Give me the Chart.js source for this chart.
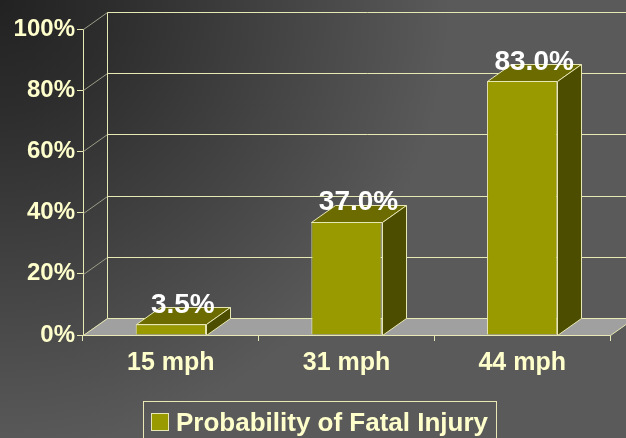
<!DOCTYPE html>
<html>
<head>
<meta charset="utf-8">
<style>
  html, body { margin: 0; padding: 0; background: #3a3a3a; }
  #wrap { width: 626px; height: 438px; position: relative; }
</style>
<script src="https://cdn.jsdelivr.net/npm/chart.js@4.4.1/dist/chart.umd.min.js"></script>
</head>
<body>
<div id="wrap"><canvas id="chart" width="626" height="438"></canvas></div>
<script>
// Speeds and the probability of a fatal injury at each one (percent)
const categories = ['15 mph', '31 mph', '44 mph'];
const fatalProbability = [3.5, 37.0, 83.0];
const seriesName = 'Probability of Fatal Injury';
const yTicks = [0, 20, 40, 60, 80, 100];

const FONT = '"Liberation Sans", Arial, Helvetica, sans-serif';
const CREAM = '#ffffcc';
const EDGE = '#e8e8b4';
const DX = 24, DY = -17;          // depth offset of the 3D walls and bars
const FRONT = '#999900', TOP = '#6b6b00', SIDE = '#4d4d00';

function poly(ctx, pts, fill, stroke) {
  ctx.beginPath();
  ctx.moveTo(pts[0][0], pts[0][1]);
  for (let i = 1; i < pts.length; i++) ctx.lineTo(pts[i][0], pts[i][1]);
  ctx.closePath();
  if (fill) { ctx.fillStyle = fill; ctx.fill(); }
  if (stroke) { ctx.strokeStyle = stroke; ctx.lineWidth = 1; ctx.stroke(); }
}

const backdrop = {
  id: 'backdrop',
  beforeDraw(chart) {
    const ctx = chart.ctx;
    const g = ctx.createRadialGradient(0, 0, 0, 0, 0, 450);
    g.addColorStop(0, '#222222');
    g.addColorStop(0.25, '#2d2d2d');
    g.addColorStop(1, '#5a5a5a');
    ctx.save();
    ctx.fillStyle = g;
    ctx.fillRect(0, 0, chart.width, chart.height);
    ctx.restore();
  }
};

const walls = {
  id: 'walls',
  beforeDatasetsDraw(chart) {
    const ctx = chart.ctx;
    const y = chart.scales.y;
    const a = chart.chartArea;
    const L = Math.round(a.left) + 0.5, R = Math.round(a.right) + 0.5;
    const B = Math.round(a.bottom) + 0.5;
    ctx.save();
    // side wall diagonals and back wall grid lines
    yTicks.forEach(v => {
      const py = Math.round(y.getPixelForValue(v)) + 0.5;
      ctx.strokeStyle = '#9c9c88';
      ctx.lineWidth = 1;
      ctx.beginPath();
      ctx.moveTo(L, py);
      ctx.lineTo(L + DX, py + DY);
      ctx.stroke();
      ctx.strokeStyle = EDGE;
      ctx.beginPath();
      ctx.moveTo(L + DX, py + DY);
      ctx.lineTo(R + DX, py + DY);
      ctx.stroke();
    });
    // back wall left edge
    const topY = Math.round(y.getPixelForValue(100)) + 0.5;
    ctx.strokeStyle = EDGE;
    ctx.beginPath();
    ctx.moveTo(L + DX, topY + DY);
    ctx.lineTo(L + DX, B + DY);
    ctx.stroke();
    // floor
    poly(ctx, [[L, B], [R, B], [R + DX, B + DY], [L + DX, B + DY]], '#a0a0a0', EDGE);
    ctx.restore();
  }
};

const bars3d = {
  id: 'bars3d',
  afterDatasetsDraw(chart) {
    const ctx = chart.ctx;
    const meta = chart.getDatasetMeta(0);
    const data = chart.data.datasets[0].data;
    ctx.save();
    meta.data.forEach((bar, i) => {
      const p = bar.getProps(['x', 'y', 'width', 'base'], true);
      const l = Math.round(p.x - p.width / 2) + 0.5;
      const r = Math.round(p.x + p.width / 2) + 0.5;
      const t = Math.round(p.y) + 0.5;
      const b = Math.round(p.base) + 0.5;
      poly(ctx, [[l, t], [r, t], [r + DX, t + DY], [l + DX, t + DY]], TOP, EDGE);
      poly(ctx, [[r, t], [r, b], [r + DX, b + DY], [r + DX, t + DY]], SIDE, EDGE);
    });
    // value labels above each bar
    ctx.font = 'bold 28px ' + FONT;
    ctx.fillStyle = '#ffffff';
    ctx.textAlign = 'center';
    ctx.textBaseline = 'middle';
    meta.data.forEach((bar, i) => {
      const p = bar.getProps(['x', 'y'], true);
      ctx.fillText(data[i].toFixed(1) + '%', p.x + DX / 2, p.y + DY - 2);
    });
    ctx.restore();
  }
};

const boxedLegend = {
  id: 'boxedLegend',
  afterDraw(chart) {
    const ctx = chart.ctx;
    const ds = chart.data.datasets[0];
    ctx.save();
    ctx.strokeStyle = EDGE;
    ctx.lineWidth = 1;
    ctx.strokeRect(143.5, 401.5, 353, 50);
    ctx.fillStyle = ds.backgroundColor;
    ctx.fillRect(151.5, 413.5, 17, 17);
    ctx.strokeStyle = EDGE;
    ctx.strokeRect(151.5, 413.5, 17, 17);
    ctx.font = 'bold 26px ' + FONT;
    ctx.fillStyle = CREAM;
    ctx.textAlign = 'left';
    ctx.textBaseline = 'alphabetic';
    ctx.fillText(ds.label, 176, 431);
    ctx.restore();
  }
};

new Chart(document.getElementById('chart'), {
  type: 'bar',
  data: {
    labels: categories,
    datasets: [{
      label: seriesName,
      data: fatalProbability,
      backgroundColor: FRONT,
      borderColor: EDGE,
      borderWidth: 1,
      categoryPercentage: 0.8,
      barPercentage: 0.5
    }]
  },
  options: {
    responsive: false,
    animation: false,
    events: [],
    layout: { padding: { left: 0, top: 29, right: 16, bottom: 0 } },
    plugins: {
      legend: { display: false },
      tooltip: { enabled: false }
    },
    scales: {
      x: {
        afterFit(scale) { scale.height = 103; },
        grid: { display: true, drawOnChartArea: false, color: EDGE, tickLength: 6, offset: true },
        border: { display: true, color: EDGE },
        ticks: { color: CREAM, padding: 7, font: { family: FONT, size: 25, weight: 'bold' } }
      },
      y: {
        min: 0,
        max: 100,
        afterFit(scale) { scale.width = 83; },
        afterBuildTicks(scale) { scale.ticks = yTicks.map(v => ({ value: v })); },
        grid: { display: true, drawOnChartArea: false, color: EDGE, tickLength: 6 },
        border: { display: true, color: EDGE },
        ticks: {
          color: CREAM,
          padding: 2,
          font: { family: FONT, size: 24, weight: 'bold' },
          callback: v => v + '%'
        }
      }
    }
  },
  plugins: [backdrop, walls, bars3d, boxedLegend]
});
</script>
</body>
</html>
